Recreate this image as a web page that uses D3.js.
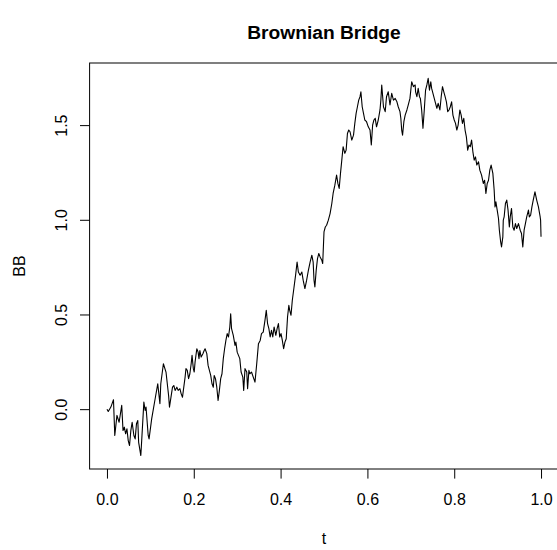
<!DOCTYPE html>
<html>
<head>
<meta charset="utf-8">
<script src="https://cdn.jsdelivr.net/npm/d3@7"></script>
<style>
  body { margin: 0; background: #fff; }
  text { font-family: "Liberation Sans", Arial, sans-serif; fill: #000; }
</style>
</head>
<body>
<svg id="chart" width="557" height="550"></svg>
<script>
// t values
let tVals = [
  0.000, 0.003, 0.009, 0.015, 0.018, 0.023, 0.028, 0.034, 0.037, 0.040,
  0.043, 0.046, 0.049, 0.052, 0.055, 0.058, 0.062, 0.065, 0.068, 0.071,
  0.073, 0.078, 0.080, 0.085, 0.088, 0.090, 0.095, 0.097, 0.103, 0.111,
  0.117, 0.122, 0.124, 0.130, 0.136, 0.142, 0.144, 0.151, 0.154, 0.157,
  0.161, 0.164, 0.168, 0.171, 0.174, 0.176, 0.180, 0.182, 0.185, 0.188,
  0.191, 0.194, 0.196, 0.199, 0.201, 0.203, 0.207, 0.210, 0.212, 0.214,
  0.217, 0.221, 0.224, 0.226, 0.230, 0.233, 0.236, 0.239, 0.242, 0.245,
  0.247, 0.250, 0.253, 0.256, 0.259, 0.262, 0.265, 0.268, 0.271, 0.274,
  0.277, 0.280, 0.283, 0.285, 0.287, 0.291, 0.295, 0.297, 0.300, 0.303,
  0.306, 0.309, 0.313, 0.315, 0.318, 0.322, 0.324, 0.327, 0.329, 0.333,
  0.337, 0.341, 0.345, 0.349, 0.353, 0.356, 0.360, 0.364, 0.367, 0.370,
  0.373, 0.376, 0.379, 0.382, 0.385, 0.389, 0.392, 0.395, 0.398, 0.401,
  0.404, 0.407, 0.410, 0.413, 0.416, 0.419, 0.421, 0.424, 0.427, 0.431,
  0.435, 0.438, 0.441, 0.445, 0.449, 0.452, 0.456, 0.460, 0.464, 0.468,
  0.472, 0.475, 0.477, 0.479, 0.482, 0.485, 0.488, 0.491, 0.495, 0.497,
  0.500, 0.503, 0.506, 0.510, 0.514, 0.518, 0.521, 0.525, 0.529, 0.532,
  0.535, 0.538, 0.541, 0.544, 0.548, 0.551, 0.554, 0.557, 0.560, 0.564,
  0.568, 0.571, 0.574, 0.577, 0.580, 0.583, 0.585, 0.588, 0.591, 0.594,
  0.598, 0.602, 0.606, 0.609, 0.612, 0.615, 0.618, 0.621, 0.625, 0.629,
  0.631, 0.633, 0.637, 0.641, 0.644, 0.648, 0.652, 0.656, 0.660, 0.664,
  0.668, 0.671, 0.675, 0.677, 0.679, 0.681, 0.684, 0.687, 0.691, 0.694,
  0.698, 0.700, 0.702, 0.706, 0.710, 0.711, 0.714, 0.717, 0.720, 0.722,
  0.725, 0.728, 0.731, 0.734, 0.737, 0.740, 0.743, 0.746, 0.748, 0.751,
  0.754, 0.757, 0.760, 0.763, 0.767, 0.770, 0.773, 0.776, 0.779, 0.782,
  0.785, 0.788, 0.791, 0.794, 0.797, 0.800, 0.803, 0.806, 0.809, 0.813,
  0.816, 0.819, 0.822, 0.825, 0.828, 0.831, 0.834, 0.837, 0.840, 0.843,
  0.846, 0.849, 0.852, 0.856, 0.859, 0.863, 0.867, 0.870, 0.873, 0.876,
  0.879, 0.882, 0.885, 0.889, 0.892, 0.894, 0.896, 0.899, 0.902, 0.904,
  0.907, 0.909, 0.912, 0.913, 0.915, 0.918, 0.921, 0.924, 0.927, 0.929,
  0.932, 0.935, 0.938, 0.941, 0.944, 0.948, 0.952, 0.955, 0.958, 0.961,
  0.964, 0.967, 0.971, 0.973, 0.976, 0.979, 0.982, 0.986, 0.990, 0.994,
  0.998, 0.999, 1.000
];

// BB values at each t
let bbVals = [
  0.000, -0.012, 0.011, 0.050, -0.139, -0.033, -0.069, 0.020, -0.113, -0.095,
  -0.130, -0.104, -0.166, -0.192, -0.113, -0.069, -0.139, -0.157, -0.077, -0.060,
  -0.175, -0.245, -0.166, 0.037, -0.007, 0.011, -0.139, -0.157, -0.051, 0.055,
  0.134, 0.029, 0.134, 0.240, 0.196, 0.072, 0.011, 0.116, 0.125, 0.099,
  0.116, 0.099, 0.108, 0.081, 0.063, 0.099, 0.169, 0.214, 0.205, 0.161,
  0.187, 0.240, 0.284, 0.214, 0.196, 0.249, 0.319, 0.301, 0.267, 0.310,
  0.275, 0.293, 0.310, 0.319, 0.293, 0.231, 0.205, 0.178, 0.134, 0.116,
  0.178, 0.161, 0.116, 0.046, 0.099, 0.161, 0.187, 0.267, 0.319, 0.363,
  0.399, 0.381, 0.434, 0.504, 0.425, 0.390, 0.337, 0.354, 0.301, 0.284,
  0.267, 0.196, 0.169, 0.099, 0.214, 0.196, 0.108, 0.205, 0.187, 0.196,
  0.169, 0.143, 0.240, 0.346, 0.363, 0.399, 0.407, 0.469, 0.522, 0.452,
  0.425, 0.381, 0.416, 0.381, 0.434, 0.390, 0.425, 0.452, 0.381, 0.399,
  0.363, 0.319, 0.354, 0.372, 0.487, 0.548, 0.522, 0.496, 0.575, 0.645,
  0.716, 0.777, 0.724, 0.707, 0.724, 0.681, 0.637, 0.681, 0.733, 0.777,
  0.813, 0.777, 0.681, 0.645, 0.733, 0.795, 0.822, 0.804, 0.786, 0.769,
  0.936, 0.962, 0.971, 0.998, 1.033, 1.086, 1.139, 1.183, 1.236, 1.192,
  1.166, 1.245, 1.315, 1.386, 1.351, 1.368, 1.456, 1.474, 1.465, 1.421,
  1.447, 1.509, 1.562, 1.597, 1.632, 1.650, 1.676, 1.597, 1.562, 1.527,
  1.518, 1.491, 1.474, 1.395, 1.500, 1.527, 1.536, 1.491, 1.527, 1.580,
  1.632, 1.712, 1.597, 1.571, 1.650, 1.676, 1.606, 1.668, 1.632, 1.641,
  1.623, 1.597, 1.571, 1.536, 1.474, 1.447, 1.518, 1.553, 1.580, 1.606,
  1.641, 1.685, 1.729, 1.703, 1.712, 1.676, 1.650, 1.694, 1.650, 1.641,
  1.580, 1.483, 1.580, 1.685, 1.712, 1.747, 1.685, 1.729, 1.694, 1.668,
  1.641, 1.615, 1.589, 1.615, 1.580, 1.650, 1.703, 1.676, 1.650, 1.623,
  1.571, 1.580, 1.597, 1.623, 1.553, 1.527, 1.509, 1.474, 1.500, 1.580,
  1.553, 1.509, 1.536, 1.474, 1.438, 1.368, 1.395, 1.386, 1.421, 1.359,
  1.315, 1.332, 1.289, 1.306, 1.262, 1.236, 1.192, 1.209, 1.139, 1.192,
  1.209, 1.262, 1.289, 1.245, 1.157, 1.068, 1.095, 1.051, 1.007, 0.945,
  0.883, 0.857, 0.910, 0.998, 1.015, 1.086, 1.104, 1.051, 0.962, 1.015,
  1.060, 0.962, 0.945, 0.980, 0.954, 0.980, 0.945, 0.928, 0.857, 0.945,
  0.980, 1.015, 1.051, 1.015, 1.024, 1.068, 1.104, 1.148, 1.104, 1.068,
  1.015, 0.998, 0.910
];

let xTicks = [0, 0.2, 0.4, 0.6, 0.8, 1.0];
let yTicks = [0, 0.5, 1.0, 1.5];

let data = tVals.map((t, i) => ({t: t, v: bbVals[i]}));

let svg = d3.select("#chart");

// plot region (R style, 4% padding on both axes)
let x = d3.scaleLinear().domain([-0.04, 1.04]).range([89.6, 558.4]);
let y = d3.scaleLinear().domain([-0.316, 1.828]).range([469, 63]);

// the line
svg.append("path")
  .datum(data)
  .attr("fill", "none")
  .attr("stroke", "#000")
  .attr("stroke-width", 1.1)
  .attr("stroke-linejoin", "round")
  .attr("d", d3.line().x(d => x(d.t)).y(d => y(d.v)));

// box
svg.append("rect")
  .attr("x", x.range()[0])
  .attr("y", y.range()[1])
  .attr("width", x.range()[1] - x.range()[0])
  .attr("height", y.range()[0] - y.range()[1])
  .attr("fill", "none")
  .attr("stroke", "#000")
  .attr("stroke-width", 1);

// x axis
let xAxis = svg.append("g")
  .attr("transform", `translate(0,${y.range()[0]})`)
  .call(d3.axisBottom(x).tickValues(xTicks).tickFormat(d3.format(".1f"))
    .tickSize(9.6).tickSizeOuter(0).tickPadding(15));
xAxis.select(".domain").remove();
xAxis.selectAll("text").attr("font-size", 16).style("font-family", "Liberation Sans, Arial, sans-serif");

// y axis, labels rotated like R
let yAxis = svg.append("g")
  .attr("transform", `translate(${x.range()[0]},0)`)
  .call(d3.axisLeft(y).tickValues(yTicks).tickFormat(d3.format(".1f"))
    .tickSize(9.6).tickSizeOuter(0));
yAxis.select(".domain").remove();
yAxis.selectAll("text")
  .attr("x", null).attr("dy", null)
  .attr("text-anchor", "middle")
  .attr("transform", "translate(-22.6,0) rotate(-90)")
  .attr("font-size", 16)
  .style("font-family", "Liberation Sans, Arial, sans-serif");

// titles
svg.append("text")
  .attr("x", 324).attr("y", 39)
  .attr("text-anchor", "middle")
  .attr("font-size", 19.2).attr("font-weight", "bold")
  .text("Brownian Bridge");

svg.append("text")
  .attr("x", 324).attr("y", 544)
  .attr("text-anchor", "middle")
  .attr("font-size", 16)
  .text("t");

svg.append("text")
  .attr("transform", "translate(25,266) rotate(-90)")
  .attr("text-anchor", "middle")
  .attr("font-size", 16)
  .text("BB");
</script>
</body>
</html>
